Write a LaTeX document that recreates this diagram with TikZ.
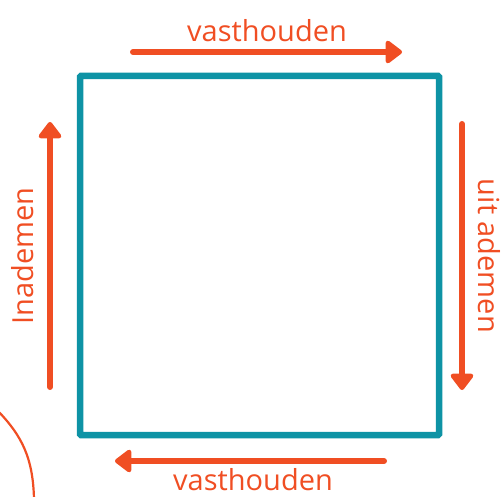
\documentclass[tikz,border=0pt]{standalone}
\usepackage{fontspec}
\setmainfont{Open Sans}
\usetikzlibrary{arrows.meta}
\definecolor{breath}{HTML}{F04E23}
\definecolor{boxteal}{HTML}{0E93A5}
\begin{document}
\begin{tikzpicture}[x=1pt,y=-1pt,
    flow/.style={draw=breath,line width=6pt,line cap=round,-{Triangle[length=18pt,width=26pt,round]}},
    lbl/.style={text=breath,font=\fontsize{29}{30}\selectfont,inner sep=0pt}]
  \useasboundingbox (0,0) rectangle (501,497);
  \draw[boxteal,line width=6.5pt,rounded corners=1pt] (80,76) rectangle (439,435);
  \coordinate (topA) at (133,52);
  \coordinate (topB) at (402,52);
  \coordinate (rightA) at (462,124);
  \coordinate (rightB) at (462,390);
  \coordinate (botA) at (384,461);
  \coordinate (botB) at (115,461);
  \coordinate (leftA) at (50,387);
  \coordinate (leftB) at (50,122);
  \node[lbl] (hold1) at (267,31) {vasthouden};
  \node[lbl,rotate=-90] (out) at (489,256) {uit ademen};
  \node[lbl] (hold2) at (253,480) {vasthouden};
  \node[lbl,rotate=90] (in) at (23,256) {Inademen};
  \draw[flow] (topA) -- (topB);
  \draw[flow] (rightA) -- (rightB);
  \draw[flow] (botA) -- (botB);
  \draw[flow] (leftA) -- (leftB);
  \coordinate (curveA) at (-2,411);
  \coordinate (curveB) at (34,499);
  \draw[breath,line width=2.2pt] (curveA) .. controls (22,436) and (33,458) .. (curveB);
\end{tikzpicture}
\end{document}
